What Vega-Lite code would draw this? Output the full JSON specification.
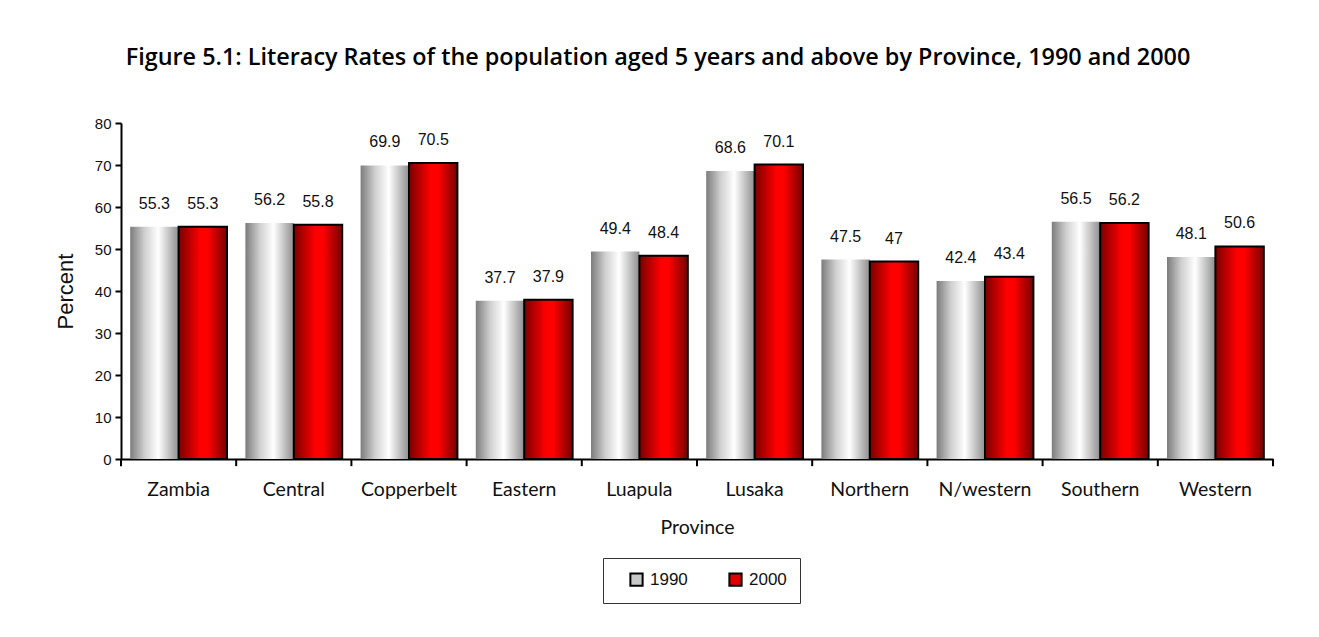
{
  "$schema": "https://vega.github.io/schema/vega-lite/v6.json",
  "autosize": "none",
  "width": 1152,
  "height": 336,
  "padding": {"left": 121, "top": 123, "right": 46, "bottom": 178},
  "background": "white",
  "title": {
    "text": "Figure 5.1: Literacy Rates of the population aged 5 years and above by Province, 1990 and 2000",
    "font": "Open Sans",
    "fontSize": 23.4,
    "fontWeight": 600,
    "color": "black",
    "anchor": "middle",
    "dx": -39,
    "offset": 46
  },
  "config": {
    "view": {"stroke": null},
    "legend": {"strokeColor": "#333", "fillColor": "white"}
  },
  "data": {
    "values": [
      {"province": "Zambia", "year": "1990", "rate": 55.3},
      {"province": "Zambia", "year": "2000", "rate": 55.3},
      {"province": "Central", "year": "1990", "rate": 56.2},
      {"province": "Central", "year": "2000", "rate": 55.8},
      {"province": "Copperbelt", "year": "1990", "rate": 69.9},
      {"province": "Copperbelt", "year": "2000", "rate": 70.5},
      {"province": "Eastern", "year": "1990", "rate": 37.7},
      {"province": "Eastern", "year": "2000", "rate": 37.9},
      {"province": "Luapula", "year": "1990", "rate": 49.4},
      {"province": "Luapula", "year": "2000", "rate": 48.4},
      {"province": "Lusaka", "year": "1990", "rate": 68.6},
      {"province": "Lusaka", "year": "2000", "rate": 70.1},
      {"province": "Northern", "year": "1990", "rate": 47.5},
      {"province": "Northern", "year": "2000", "rate": 47},
      {"province": "N/western", "year": "1990", "rate": 42.4},
      {"province": "N/western", "year": "2000", "rate": 43.4},
      {"province": "Southern", "year": "1990", "rate": 56.5},
      {"province": "Southern", "year": "2000", "rate": 56.2},
      {"province": "Western", "year": "1990", "rate": 48.1},
      {"province": "Western", "year": "2000", "rate": 50.6}
    ]
  },
  "encoding": {
    "x": {
      "field": "province",
      "type": "nominal",
      "sort": null,
      "scale": {"paddingInner": 0, "paddingOuter": 0},
      "axis": {
        "title": "Province",
        "titleFont": "Lato",
        "titleFontSize": 19.5,
        "titleFontWeight": "normal",
        "titleColor": "#111",
        "titlePadding": 20,
        "labelFont": "Lato",
        "labelFontSize": 19.5,
        "labelColor": "#111",
        "labelAngle": 0,
        "labelPadding": 21,
        "ticks": false,
        "tickSize": 0,
        "domainColor": "black",
        "domainWidth": 2
      }
    }
  },
  "layer": [
    {
      "mark": {"type": "bar", "strokeWidth": 2},
      "encoding": {
        "xOffset": {"field": "year", "type": "nominal", "scale": {"paddingInner": 0, "paddingOuter": 0.19}},
        "y": {
          "field": "rate",
          "type": "quantitative",
          "scale": {"domain": [0, 80], "nice": false},
          "axis": {
            "title": "Percent",
            "titleFont": "Liberation Sans",
            "titleFontSize": 22,
            "titleFontWeight": "normal",
            "titleColor": "#111",
            "titlePadding": 17,
            "labelFont": "Liberation Sans",
            "labelFontSize": 15,
            "labelColor": "#111",
            "labelPadding": 4,
            "values": [0, 10, 20, 30, 40, 50, 60, 70, 80],
            "grid": false,
            "tickColor": "black",
            "tickWidth": 2,
            "tickSize": 6,
            "domainColor": "black",
            "domainWidth": 2
          }
        },
        "fill": {
          "field": "year",
          "type": "nominal",
          "scale": {"range": ["#c8c8c8", "#e00000"]},
          "legend": {
            "title": null,
            "orient": "none",
            "legendX": 482,
            "legendY": 435,
            "direction": "horizontal",
            "symbolType": "square",
            "symbolSize": 150,
            "symbolOffset": 12,
            "labelFont": "Liberation Sans",
            "labelFontSize": 17,
            "labelColor": "#111",
            "labelOffset": 5,
            "columnPadding": 27,
            "padding": 13,
            "symbolStrokeWidth": 2,
            "symbolStrokeColor": "black"
          },
          "condition": [
            {
              "test": "datum.year === '1990'",
              "value": {
                "gradient": "linear",
                "x1": 0, "y1": 0, "x2": 1, "y2": 0,
                "stops": [
                  {"offset": 0, "color": "#7c7c7c"},
                  {"offset": 0.3, "color": "#d0d0d0"},
                  {"offset": 0.58, "color": "#ffffff"},
                  {"offset": 1, "color": "#8e8e8e"}
                ]
              }
            },
            {
              "test": "datum.year === '2000'",
              "value": {
                "gradient": "linear",
                "x1": 0, "y1": 0, "x2": 1, "y2": 0,
                "stops": [
                  {"offset": 0, "color": "#7a0000"},
                  {"offset": 0.45, "color": "#ff0000"},
                  {"offset": 0.6, "color": "#ff0000"},
                  {"offset": 1, "color": "#760000"}
                ]
              }
            }
          ]
        },
        "stroke": {
          "condition": {"test": "datum.year === '2000'", "value": "black"},
          "value": "transparent"
        }
      }
    },
    {
      "mark": {"type": "text", "font": "Liberation Sans", "fontSize": 16, "color": "#111", "baseline": "alphabetic", "dy": -18},
      "encoding": {
        "xOffset": {"field": "year", "type": "nominal", "scale": {"paddingInner": 0, "paddingOuter": 0.19}},
        "y": {"field": "rate", "type": "quantitative"},
        "text": {"field": "rate", "type": "quantitative"}
      }
    },
    {
      "transform": [{"filter": "datum.year === '1990'"}],
      "mark": {"type": "rule", "color": "black", "strokeWidth": 2},
      "encoding": {
        "x": {"field": "province", "type": "nominal", "sort": null, "bandPosition": 0},
        "y": {"datum": 0},
        "y2": {"datum": -1.7}
      }
    },
    {
      "transform": [{"filter": "datum.year === '1990' && datum.province === 'Western'"}],
      "mark": {"type": "rule", "color": "black", "strokeWidth": 2},
      "encoding": {
        "x": {"field": "province", "type": "nominal", "sort": null, "bandPosition": 1},
        "y": {"datum": 0},
        "y2": {"datum": -1.7}
      }
    }
  ]
}
